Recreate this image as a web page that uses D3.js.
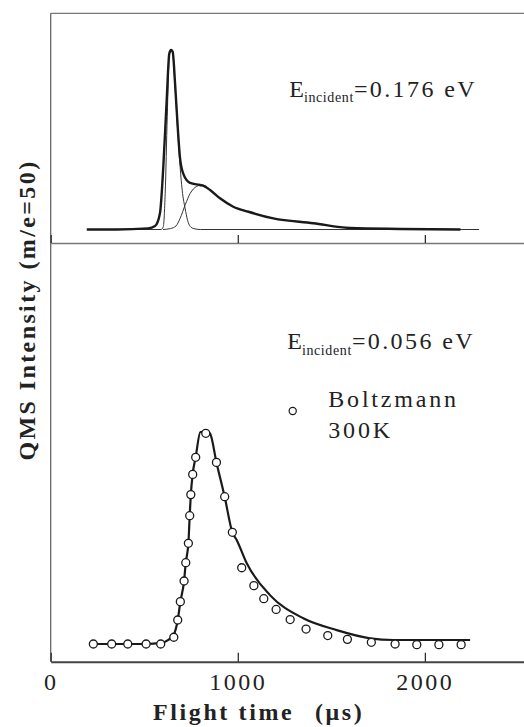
<!DOCTYPE html>
<html>
<head>
<meta charset="utf-8">
<script src="https://cdn.jsdelivr.net/npm/d3@7"></script>
<style>
  body { margin: 0; background: #fff; }
  svg { display: block; }
  text { font-family: "Liberation Serif", "Times New Roman", serif; fill: #222; }
</style>
</head>
<body>
<svg id="chart" width="524" height="727"></svg>
<script>
// upper panel, E = 0.176 eV (flight time in us, intensity normalised to peak)
const topTotalT = [193, 353, 520, 558, 584, 602, 620, 634, 643, 652, 665, 679, 691, 709, 745, 798, 820, 852, 905, 976, 1057, 1190, 1404, 1600, 1868, 2190]
const topTotalV = [0, 0, 0.006, 0.019, 0.09, 0.35, 0.72, 0.98, 1.0, 0.99, 0.81, 0.57, 0.40, 0.31, 0.26, 0.248, 0.242, 0.22, 0.174, 0.127, 0.099, 0.062, 0.035, 0.008, 0.003, 0]

const topFastT = [353, 590, 602, 612, 623, 634, 643, 652, 665, 679, 691, 705, 718, 732, 745, 765, 800, 2290]
const topFastV = [0, 0, 0.016, 0.2, 0.63, 0.97, 1.0, 0.98, 0.79, 0.55, 0.36, 0.2, 0.12, 0.05, 0.018, 0.005, 0, 0]

const topSlowT = [600, 640, 670, 691, 720, 745, 780, 807, 830, 852, 905, 976, 1057, 1190, 1404, 1600, 1868, 2190]
const topSlowV = [0, 0.005, 0.02, 0.06, 0.14, 0.2, 0.24, 0.248, 0.242, 0.22, 0.174, 0.127, 0.099, 0.062, 0.035, 0.008, 0.003, 0]

// lower panel, E = 0.056 eV: measured fit line + Boltzmann 300K points
const lowLineT = [228, 510, 588, 629, 658, 679, 693, 713, 722, 736, 743, 749, 759, 775, 800, 829, 851, 886, 930, 971, 994, 1048, 1172, 1350, 1529, 1707, 1832, 1974, 2242]
const lowLineV = [0, 0, 0.005, 0.02, 0.045, 0.114, 0.2, 0.3, 0.386, 0.478, 0.609, 0.709, 0.807, 0.887, 1.006, 1.008, 1.0, 0.862, 0.699, 0.53, 0.494, 0.383, 0.232, 0.122, 0.066, 0.027, 0.019, 0.019, 0.019]

const boltzT = [228, 326, 412, 510, 588, 658, 679, 693, 713, 722, 736, 743, 749, 759, 775, 829, 886, 930, 971, 1021, 1086, 1139, 1205, 1280, 1365, 1481, 1586, 1714, 1841, 1957, 2075, 2194]
const boltzV = [0, 0, 0, 0, 0, 0.032, 0.114, 0.201, 0.299, 0.386, 0.478, 0.609, 0.709, 0.805, 0.886, 1.0, 0.862, 0.699, 0.53, 0.362, 0.277, 0.215, 0.164, 0.116, 0.071, 0.04, 0.022, 0.008, 0, -0.003, -0.003, -0.003]

const xTicks = [0, 1000, 2000]

const svg = d3.select("#chart")
const padL = 50.7, padR = 524, padT = 13.3, midY = 243, padB = 661.7

const x = d3.scaleLinear().domain([0, 2530]).range([padL, padR])
const yTop = d3.scaleLinear().domain([0, 1]).range([229.5, 50])
const yLow = d3.scaleLinear().domain([0, 1]).range([644, 433.3])

const zip = (ts, vs) => ts.map((t, i) => ({ t: t, v: vs[i] }))

// frame
svg.append("line").attr("x1", padL).attr("x2", padL).attr("y1", padT).attr("y2", padB)
    .attr("stroke", "#666").attr("stroke-width", 1.3)
svg.append("line").attr("x1", padL).attr("x2", padR).attr("y1", padT).attr("y2", padT)
    .attr("stroke", "#777").attr("stroke-width", 1.2)

// divider with ticks (upper panel x axis, no labels)
svg.append("g")
    .attr("transform", `translate(0,${midY})`)
    .call(d3.axisBottom(x).tickValues(xTicks).tickSize(-8).tickSizeOuter(0).tickFormat(""))
    .call(g => g.select(".domain").attr("stroke", "#777").attr("stroke-width", 1.3))
    .call(g => g.selectAll(".tick line").attr("stroke", "#222").attr("stroke-width", 1.2))

// bottom axis
svg.append("g")
    .attr("transform", `translate(0,${padB})`)
    .call(d3.axisBottom(x).tickValues(xTicks).tickSize(-9).tickSizeOuter(0).tickFormat(d3.format("d")))
    .call(g => g.select(".domain").attr("stroke", "#444").attr("stroke-width", 2))
    .call(g => g.selectAll(".tick line").attr("stroke", "#222").attr("stroke-width", 1.2))
    .call(g => g.selectAll(".tick text")
        .attr("y", 28).attr("dy", 0)
        .attr("font-family", "Liberation Serif, Times New Roman, serif")
        .attr("font-size", 24).attr("letter-spacing", 2.5).attr("fill", "#222"))

// upper panel curves
const lineTop = d3.line().x(d => x(d.t)).y(d => yTop(d.v)).curve(d3.curveMonotoneX)
svg.append("path").datum(zip(topFastT, topFastV)).attr("d", lineTop)
    .attr("fill", "none").attr("stroke", "#333").attr("stroke-width", 1)
svg.append("path").datum(zip(topSlowT, topSlowV)).attr("d", lineTop)
    .attr("fill", "none").attr("stroke", "#333").attr("stroke-width", 1)
svg.append("path").datum(zip(topTotalT, topTotalV)).attr("d", lineTop)
    .attr("fill", "none").attr("stroke", "#1a1a1a").attr("stroke-width", 2.4)

// lower panel
const lineLow = d3.line().x(d => x(d.t)).y(d => yLow(d.v)).curve(d3.curveMonotoneX)
svg.append("path").datum(zip(lowLineT, lowLineV)).attr("d", lineLow)
    .attr("fill", "none").attr("stroke", "#1a1a1a").attr("stroke-width", 2.2)

svg.append("g").selectAll("circle")
    .data(zip(boltzT, boltzV))
    .join("circle")
    .attr("cx", d => x(d.t)).attr("cy", d => yLow(d.v)).attr("r", 4)
    .attr("fill", "#fff").attr("stroke", "#1a1a1a").attr("stroke-width", 1.3)

// annotations
function energyLabel(xp, yp, val) {
    const t = svg.append("text").attr("x", xp).attr("y", yp).attr("font-size", 24)
    t.append("tspan").text("E")
    t.append("tspan").attr("dy", 5.5).attr("font-size", 14).attr("letter-spacing", 0.6).text("incident")
    t.append("tspan").attr("dy", -5.5).attr("letter-spacing", 2.4).text("=" + val + " eV")
}
energyLabel(289.3, 96.7, "0.176")
energyLabel(287.3, 349, "0.056")

svg.append("circle").attr("cx", 292.7).attr("cy", 411).attr("r", 3.6)
    .attr("fill", "#fff").attr("stroke", "#1a1a1a").attr("stroke-width", 1.2)
svg.append("text").attr("x", 328.3).attr("y", 406.7).attr("font-size", 24)
    .attr("letter-spacing", 2.8).text("Boltzmann")
svg.append("text").attr("x", 328.3).attr("y", 437.7).attr("font-size", 24)
    .attr("letter-spacing", 2.8).text("300K")

// axis titles
svg.append("text").attr("x", 153).attr("y", 720).attr("font-size", 24)
    .attr("font-weight", "bold").attr("letter-spacing", 2.6).text("Flight time")
svg.append("text").attr("x", 315).attr("y", 720).attr("font-size", 24)
    .attr("font-weight", "bold").attr("letter-spacing", 2.6).text("(μs)")

svg.append("text")
    .attr("transform", "translate(35,310) rotate(-90)")
    .attr("text-anchor", "middle").attr("font-size", 24)
    .attr("font-weight", "bold").attr("letter-spacing", 2.4)
    .text("QMS Intensity  (m/e=50)")
</script>
</body>
</html>
